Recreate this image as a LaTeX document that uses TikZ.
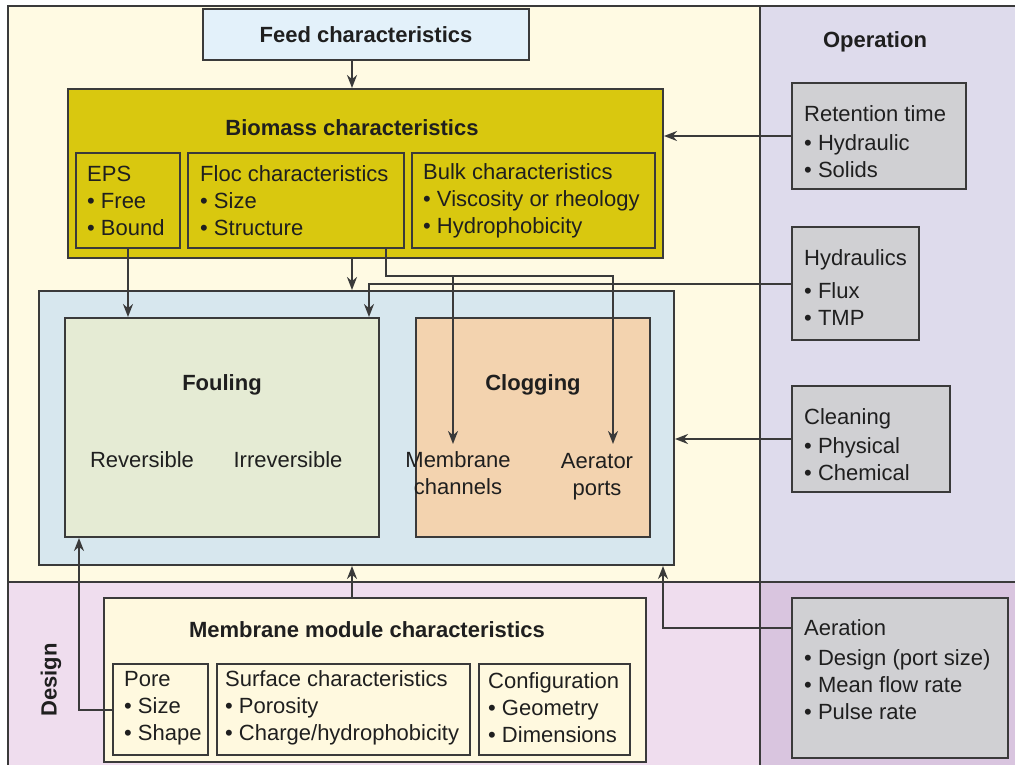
\documentclass[tikz,border=0pt]{standalone}
\usepackage{fontspec}
\setmainfont{Liberation Sans}
\usetikzlibrary{fit,arrows.meta}
\definecolor{cream}{HTML}{FFFAE3}
\definecolor{lav}{HTML}{DEDBEC}
\definecolor{pinkb}{HTML}{EFDDEE}
\definecolor{purp}{HTML}{D9C5DF}
\definecolor{feedc}{HTML}{E3F1FA}
\definecolor{biom}{HTML}{D9C80F}
\definecolor{outerc}{HTML}{D7E7EE}
\definecolor{foulc}{HTML}{E5EBD4}
\definecolor{clogc}{HTML}{F3D3AF}
\definecolor{grayb}{HTML}{D0D0D3}
\definecolor{modc}{HTML}{FFF9DF}
\definecolor{edge}{HTML}{3A3A3A}
\tikzset{
 box/.style={draw=edge, line width=2pt, inner sep=0pt},
 txt/.style={font=\fontsize{22}{27}\selectfont, inner sep=0pt, text=black!88},
 titlet/.style={txt, font=\fontsize{22}{27}\selectfont\bfseries},
 lst/.style={txt, align=left, anchor=west},
 arr/.style={draw=edge, line width=2pt, -{Stealth[length=13pt,width=10pt]}},
 ln/.style={draw=edge, line width=2pt},
}
\begin{document}
\begin{tikzpicture}[x=1pt,y=-1pt]
\useasboundingbox (0,0) rectangle (1015,765);
% background regions
\fill[cream] (8,6) rectangle (760,582);
\fill[lav] (760,6) rectangle (1015,582);
\fill[pinkb] (8,582) rectangle (760,765);
\fill[purp] (760,582) rectangle (1015,765);
\draw[ln] (1015,6) -- (8,6) -- (8,765);
\draw[ln] (760,6) -- (760,765);
\draw[ln] (8,582) -- (1015,582);
% boxes
\node[box, fill=feedc, fit={(203,9) (529,60)}] (feed) {};
\node[box, fill=biom, fit={(68,89) (663,258)}] (biomass) {};
\node[box, fit={(76,153) (180,248)}] (eps) {};
\node[box, fit={(188,153) (404,248)}] (floc) {};
\node[box, fit={(412,153) (655,248)}] (bulk) {};
\node[box, fill=grayb, fit={(792,83) (966,189)}] (ret) {};
\node[box, fill=grayb, fit={(792,227) (919,340)}] (hyd) {};
\node[box, fill=grayb, fit={(792,386) (950,492)}] (clean) {};
\node[box, fill=grayb, fit={(792,598) (1008,758)}] (aer) {};
\node[box, fill=outerc, fit={(39,291) (674,565)}] (outer) {};
\node[box, fill=foulc, fit={(65,318) (379,537)}] (foul) {};
\node[box, fill=clogc, fit={(416,318) (650,537)}] (clog) {};
\node[box, fill=modc, fit={(104,598) (646,762)}] (module) {};
\node[box, fit={(113,664) (208,755)}] (pore) {};
\node[box, fit={(217,664) (470,755)}] (surf) {};
\node[box, fit={(479,664) (630,755)}] (config) {};
% texts
\node[titlet] (tfeed) at (366,35) {Feed characteristics};
\node[titlet] (top) at (875,42) {Operation};
\node[titlet] (tbio) at (352,128) {Biomass characteristics};
\node[lst] (teps) at (87,201) {EPS\\• Free\\• Bound};
\node[lst] (tfloc) at (200,201) {Floc characteristics\\• Size\\• Structure};
\node[lst] (tbulk) at (423,201) {Bulk characteristics\\• Viscosity or rheology\\• Hydrophobicity};
\node[lst] (tret) at (804,142) {Retention time\\[2pt]• Hydraulic\\• Solids};
\node[lst] (thyd) at (804,288) {Hydraulics\\[6pt]• Flux\\• TMP};
\node[lst] (tclean) at (804,445) {Cleaning\\[2pt]• Physical\\• Chemical};
\node[lst] (taer) at (804,670) {Aeration\\[3pt]• Design (port size)\\• Mean flow rate\\• Pulse rate};
\node[titlet] (tfoul) at (222,385) {Fouling};
\node[txt] (trev) at (142,460) {Reversible};
\node[txt] (tirr) at (288,460) {Irreversible};
\node[titlet] (tclog) at (533,385) {Clogging};
\node[txt, align=center] (tmem) at (458,473) {Membrane\\channels};
\node[txt, align=center] (tport) at (597,477) {Aerator\\ports};
\node[titlet] (tmod) at (367,630) {Membrane module characteristics};
\node[lst] (tpore) at (124,708) {Pore\\• Size\\• Shape};
\node[lst] (tsurf) at (225,708) {Surface characteristics\\• Porosity\\• Charge/hydrophobicity};
\node[lst] (tconf) at (488,708) {Configuration\\• Geometry\\• Dimensions};
\node[titlet, rotate=90] (tdes) at (51,680) {Design};
% helper coordinates
\coordinate (k352) at (352,0);
\coordinate (k369) at (369,0);
\coordinate (k386) at (386,0);
\coordinate (k453) at (453,0);
\coordinate (k613) at (613,0);
\coordinate (k79) at (79,0);
\coordinate (k663) at (663,0);
\coordinate (y276) at (0,276);
\coordinate (y628) at (0,628);
\coordinate (y443) at (0,444);
% connectors
\draw[arr] (feed.south -| k352) -- (biomass.north -| k352);
\draw[arr] (ret.west) -- (ret.west -| biomass.east);
\draw[arr] (eps.south) -- (eps.south |- foul.north);
\draw[arr] (biomass.south -| k352) -- (outer.north -| k352);
\draw[arr] (hyd.west) -- (hyd.west -| k369) -- (k369 |- foul.north);
\draw[arr] (floc.south -| k386) -- (k386 |- y276) -- (k613 |- y276) -- (k613 |- y443);
\draw[arr] (k453 |- y276) -- (k453 |- y443);
\draw[arr] (clean.west) -- (clean.west -| outer.east);
\draw[arr] (module.north -| k352) -- (outer.south -| k352);
\draw[arr] (pore.west) -- (pore.west -| k79) -- (k79 |- foul.south);
\draw[arr] (aer.west |- y628) -- (k663 |- y628) -- (k663 |- outer.south);
\end{tikzpicture}
\end{document}
